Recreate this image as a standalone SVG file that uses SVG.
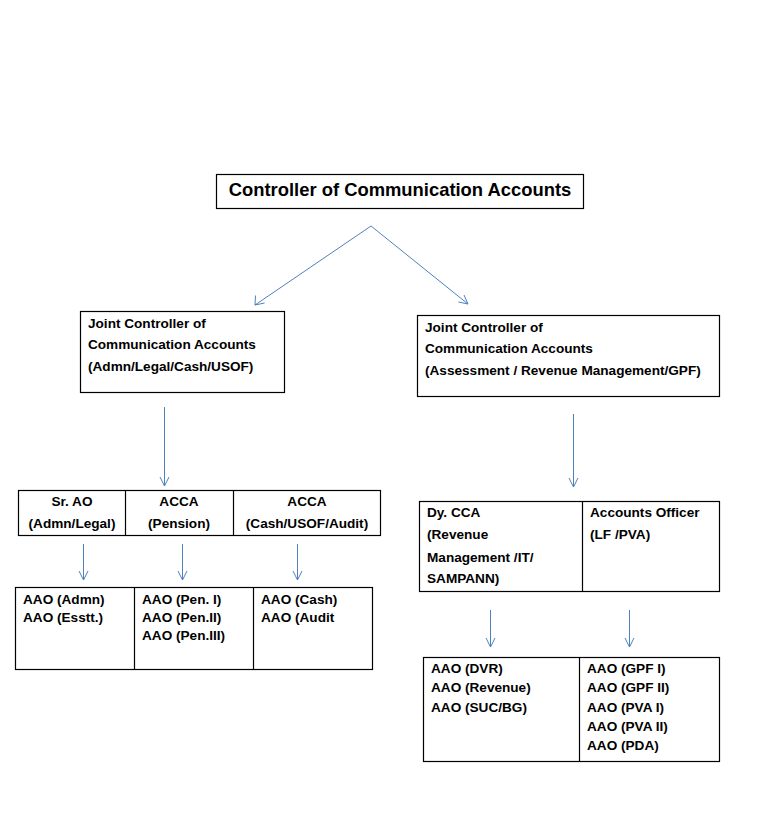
<svg xmlns="http://www.w3.org/2000/svg" width="760" height="815" viewBox="0 0 760 815">
<style>
.box{fill:#fff;stroke:#000;stroke-width:1.2}
.div{stroke:#000;stroke-width:1.2}
text{font-family:"Liberation Sans",Arial,sans-serif;font-weight:bold;font-size:13.6px;fill:#000}
.c{text-anchor:middle}
.title{font-size:18.4px}
.conn line{stroke:#4F81BD;stroke-width:1;fill:none}
.conn path{stroke:#4F81BD;stroke-width:1;fill:none}
</style>
<rect width="760" height="815" fill="#fff"/>
<g id="cca">
<rect class="box" x="216.5" y="174.5" width="367" height="34"/>
<text class="title c" x="400" y="195.5">Controller of Communication Accounts</text>
</g>
<g id="jcca-left">
<rect class="box" x="80.5" y="311.5" width="204" height="81"/>
<text x="88" y="328">Joint Controller of</text>
<text x="88" y="349">Communication Accounts</text>
<text x="88" y="371">(Admn/Legal/Cash/USOF)</text>
</g>
<g id="jcca-right">
<rect class="box" x="417.5" y="315.5" width="302" height="81"/>
<text x="425" y="332">Joint Controller of</text>
<text x="425" y="353">Communication Accounts</text>
<text x="425" y="375">(Assessment / Revenue Management/GPF)</text>
</g>
<g id="left-officers">
<rect class="box" x="18.5" y="490.5" width="362" height="45"/>
<line class="div" x1="125.5" y1="490.5" x2="125.5" y2="535.5"/>
<line class="div" x1="233.5" y1="490.5" x2="233.5" y2="535.5"/>
<text class="c" x="72" y="506">Sr. AO</text>
<text class="c" x="72" y="528">(Admn/Legal)</text>
<text class="c" x="179" y="506">ACCA</text>
<text class="c" x="179" y="528">(Pension)</text>
<text class="c" x="307" y="506">ACCA</text>
<text class="c" x="307" y="528">(Cash/USOF/Audit)</text>
</g>
<g id="left-aao">
<rect class="box" x="15.5" y="587.5" width="357" height="82"/>
<line class="div" x1="134.5" y1="587.5" x2="134.5" y2="669.5"/>
<line class="div" x1="253.5" y1="587.5" x2="253.5" y2="669.5"/>
<text x="23" y="604">AAO (Admn)</text>
<text x="23" y="622">AAO (Esstt.)</text>
<text x="142" y="604">AAO (Pen. I)</text>
<text x="142" y="622">AAO (Pen.II)</text>
<text x="142" y="640">AAO (Pen.III)</text>
<text x="261" y="604">AAO (Cash)</text>
<text x="261" y="622">AAO (Audit</text>
</g>
<g id="right-officers">
<rect class="box" x="419.5" y="501.5" width="300" height="90"/>
<line class="div" x1="582.5" y1="501.5" x2="582.5" y2="591.5"/>
<text x="427" y="517">Dy. CCA</text>
<text x="427" y="538.5">(Revenue</text>
<text x="427" y="561.5">Management /IT/</text>
<text x="427" y="583">SAMPANN)</text>
<text x="590" y="517">Accounts Officer</text>
<text x="590" y="538.5">(LF /PVA)</text>
</g>
<g id="right-aao">
<rect class="box" x="423.5" y="657.5" width="296" height="104"/>
<line class="div" x1="579.5" y1="657.5" x2="579.5" y2="761.5"/>
<text x="431" y="672.5">AAO (DVR)</text>
<text x="431" y="691.5">AAO (Revenue)</text>
<text x="431" y="711.5">AAO (SUC/BG)</text>
<text x="587" y="672.5">AAO (GPF I)</text>
<text x="587" y="691.5">AAO (GPF II)</text>
<text x="587" y="711.5">AAO (PVA I)</text>
<text x="587" y="730.5">AAO (PVA II)</text>
<text x="587" y="750">AAO (PDA)</text>
</g>
<g id="connectors" class="conn">
<line x1="371" y1="226" x2="255" y2="305"/>
<path d="M255.5 295.5 L255 305 L264.5 303"/>
<line x1="371" y1="226" x2="468" y2="304"/>
<path d="M458.5 302 L468 304 L464 295"/>
<line x1="164.5" y1="407" x2="164.5" y2="486"/>
<path d="M160 477 L164.5 486 L169 477"/>
<line x1="83.5" y1="544" x2="83.5" y2="580"/>
<path d="M79 571 L83.5 580 L88 571"/>
<line x1="182.5" y1="544" x2="182.5" y2="580"/>
<path d="M178 571 L182.5 580 L187 571"/>
<line x1="297.5" y1="544" x2="297.5" y2="580"/>
<path d="M293 571 L297.5 580 L302 571"/>
<line x1="573.5" y1="414" x2="573.5" y2="487"/>
<path d="M569 478 L573.5 487 L578 478"/>
<line x1="490.5" y1="610" x2="490.5" y2="647"/>
<path d="M486 638 L490.5 647 L495 638"/>
<line x1="629.5" y1="610" x2="629.5" y2="647"/>
<path d="M625 638 L629.5 647 L634 638"/>
</g>
</svg>
